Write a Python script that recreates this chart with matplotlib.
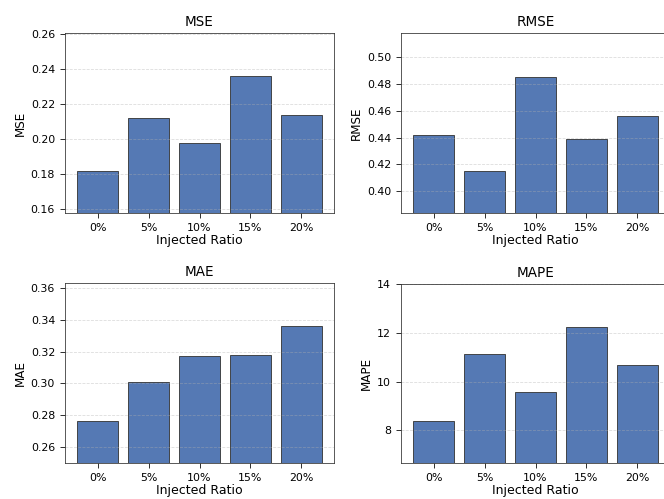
import matplotlib
matplotlib.use("Agg")
import matplotlib.pyplot as plt
from matplotlib.ticker import MultipleLocator
import numpy as np

ratios = ["0%", "5%", "10%", "15%", "20%"]
metrics = ["MSE", "RMSE", "MAE", "MAPE"]

mse = [0.1818, 0.2119, 0.1976, 0.2358, 0.2140]
rmse = [0.4417, 0.4147, 0.4855, 0.4387, 0.4559]
mae = [0.2762, 0.3010, 0.3171, 0.3179, 0.3360]
mape = [8.38, 11.14, 9.57, 12.25, 10.68]

values = {"MSE": mse, "RMSE": rmse, "MAE": mae, "MAPE": mape}
ylims = {
    "MSE": (0.1577, 0.2604),
    "RMSE": (0.3833, 0.518),
    "MAE": (0.2495, 0.3632),
    "MAPE": (6.65, 14.0),
}
ystep = {"MSE": 0.02, "RMSE": 0.02, "MAE": 0.02, "MAPE": 2}

W, H = 664, 499
fig = plt.figure(figsize=(W / 72, H / 72), dpi=72)

# axes boxes in pixels (left, top, right, bottom); right column runs off the canvas
boxes = {
    "MSE": (65, 33.3, 334, 213.3),
    "RMSE": (401, 33.3, 670, 213.3),
    "MAE": (65, 283.3, 334, 463.3),
    "MAPE": (401, 284, 670, 463.3),
}

for name in metrics:
    l, t, r, b = boxes[name]
    ax = fig.add_axes([l / W, 1 - b / H, (r - l) / W, (b - t) / H])
    x = np.arange(len(ratios))
    ax.bar(x, values[name], width=0.8, color="#4C72B0", edgecolor="#333333",
           linewidth=0.9, alpha=0.95)
    ax.set_xticks(x)
    ax.set_xticklabels(ratios)
    ax.set_ylim(*ylims[name])
    ax.yaxis.set_major_locator(MultipleLocator(ystep[name]))
    ax.tick_params(labelsize=11, length=5, pad=5)
    ax.set_title(name, fontsize=13.5, pad=7)
    ax.set_xlabel("Injected Ratio", fontsize=12.5, labelpad=1)
    ax.set_ylabel(name, fontsize=12)
    ax.grid(axis="y", linestyle="--", alpha=0.45)
    for s in ax.spines.values():
        s.set_color("#333333")

fig.savefig("out.png", dpi=72)
